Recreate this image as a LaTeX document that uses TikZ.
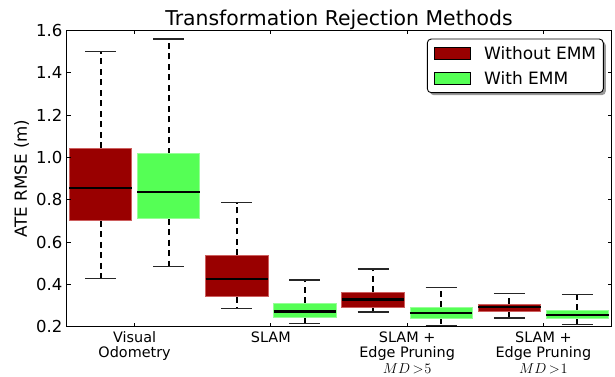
\documentclass[tikz,border=0pt]{standalone}
\usepackage{fontspec}
\setmainfont{DejaVu Sans}
\definecolor{boxred}{RGB}{153,0,0}
\definecolor{boxgreen}{RGB}{85,255,85}
\definecolor{edgered}{RGB}{205,95,95}
\definecolor{edgegreen}{RGB}{150,255,150}
\newcommand{\fsz}[1]{\fontsize{#1}{#1}\selectfont}
\newcommand{\bplot}[8]{%
  \draw[whisk] (#1,#5) -- (#1,#6);
  \draw[whisk] (#1,#3) -- (#1,#2);
  \draw[capline] (#1-0.2275,#6) -- (#1+0.2275,#6);
  \draw[capline] (#1-0.2275,#2) -- (#1+0.2275,#2);
  \filldraw[fill=#7, draw=#8, line width=0.9pt] (#1-0.458,#3) rectangle (#1+0.458,#5);
  \draw[medline] (#1-0.458,#4) -- (#1+0.458,#4);
}
\tikzset{
  whisk/.style={black, line width=2pt, dash pattern=on 6pt off 4.5pt},
  capline/.style={black!85, line width=1.3pt},
  medline/.style={black, line width=2.5pt},
  tickline/.style={black, line width=0.8pt},
  frameline/.style={black, line width=1pt},
  ticklab/.style={inner sep=0pt, font=\fsz{16.5}},
  xlab/.style={inner sep=0pt, anchor=base, font=\fsz{14.4}},
}
\begin{document}
\begin{tikzpicture}[x=1pt,y=1pt]
\useasboundingbox (0,0) rectangle (615,377);
\fill[white] (0,0) rectangle (615,377);
\begin{scope}[x=68.125pt, y=211.7pt, shift={(32.4375pt,7.96pt)}]
  \bplot{1}{0.429}{0.700}{0.855}{1.043}{1.499}{boxred}{edgered}
  \bplot{2}{0.483}{0.710}{0.836}{1.016}{1.559}{boxgreen}{edgegreen}
  \bplot{3}{0.287}{0.342}{0.425}{0.537}{0.786}{boxred}{edgered}
  \bplot{4}{0.216}{0.244}{0.271}{0.310}{0.421}{boxgreen}{edgegreen}
  \bplot{5}{0.269}{0.292}{0.328}{0.362}{0.472}{boxred}{edgered}
  \bplot{6}{0.207}{0.240}{0.265}{0.292}{0.384}{boxgreen}{edgegreen}
  \bplot{7}{0.241}{0.273}{0.293}{0.307}{0.356}{boxred}{edgered}
  \bplot{8}{0.209}{0.238}{0.255}{0.277}{0.351}{boxgreen}{edgegreen}
  % frame
  \draw[frameline] (0.5,0.2) rectangle (8.5,1.6);
  \foreach \v [count=\i] in {0.2,0.4,0.6,0.8,1.0,1.2,1.4,1.6}{
    \draw[tickline] (0.5,\v) -- ++(4pt,0);
    \draw[tickline] (8.5,\v) -- ++(-4pt,0);
    \node[ticklab, anchor=east] (yt\i) at ([xshift=-4pt]0.5,\v) {\v};
  }
  \foreach \c in {1.5,3.5,5.5,7.5}{
    \draw[tickline] (\c,0.2) -- ++(0,4pt);
    \draw[tickline] (\c,1.6) -- ++(0,-4pt);
  }
  \node[xlab] (vo1) at ([yshift=-15.8pt]1.5,0.2) {Visual};
  \node[xlab] (vo2) at ([yshift=-30.8pt]1.5,0.2) {Odometry};
  \node[xlab] (sl1) at ([yshift=-15.8pt]3.5,0.2) {SLAM};
  \node[xlab] (ep1) at ([yshift=-15.8pt]5.5,0.2) {SLAM +};
  \node[xlab] (ep2) at ([yshift=-30.8pt]5.5,0.2) {Edge Pruning};
  \node[xlab] (ep3) at ([yshift=-46.3pt]5.5,0.2) {$MD\mkern3mu{>}\mkern1mu5$};
  \node[xlab] (eq1) at ([yshift=-15.8pt]7.5,0.2) {SLAM +};
  \node[xlab] (eq2) at ([yshift=-30.8pt]7.5,0.2) {Edge Pruning};
  \node[xlab] (eq3) at ([yshift=-46.3pt]7.5,0.2) {$MD\mkern3mu{>}\mkern1mu1$};
\end{scope}
% title and y label
\node[inner sep=0pt, anchor=base, font=\fsz{20.4}] (title) at (339,351) {Transformation Rejection Methods};
\node[inner sep=0pt, rotate=90, font=\fsz{16.7}] (ylab) at (21.7,198.5) {ATE RMSE (m)};
% legend
\fill[black!40, rounded corners=4pt] (429.8,281.8) rectangle (605.8,335.5);
\filldraw[fill=white, draw=black, line width=0.9pt, rounded corners=4pt] (427.3,284.3) rectangle (603.3,338);
\filldraw[fill=boxred, draw=black, line width=0.8pt] (434,317.7) rectangle (470,329.7);
\filldraw[fill=boxgreen, draw=black, line width=0.8pt] (434,292.7) rectangle (470,304.7);
\node[inner sep=0pt, anchor=base west, font=\fsz{17}] (lg1) at (484,317.5) {Without EMM};
\node[inner sep=0pt, anchor=base west, font=\fsz{17}] (lg2) at (484,292.5) {With EMM};
\end{tikzpicture}
\end{document}
